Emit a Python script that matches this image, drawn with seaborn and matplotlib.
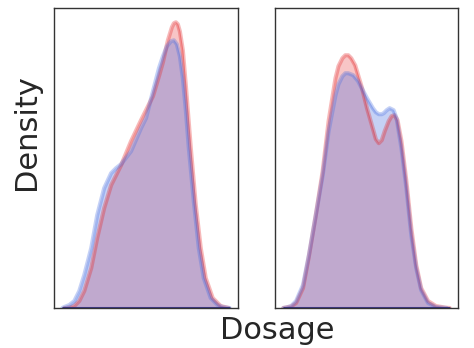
import matplotlib
matplotlib.use("Agg")
import matplotlib.pyplot as plt
import seaborn as sns

# dosage (mg) and density readings, left panel
left_blue_dose = [8, 10, 15, 20, 25, 30, 37, 43, 50, 57, 62, 67, 77, 87, 92, 99, 105, 109, 113, 117,
                  120, 123, 126, 129, 132, 135, 140, 145, 150, 157, 164, 169, 176]
left_blue_dens = [0, 0.001, 0.003, 0.007, 0.017, 0.033, 0.060, 0.093, 0.120, 0.135, 0.140, 0.144,
                  0.157, 0.180, 0.190, 0.217, 0.240, 0.252, 0.262, 0.267, 0.268, 0.264, 0.252, 0.230,
                  0.198, 0.160, 0.107, 0.060, 0.030, 0.010, 0.003, 0.001, 0]
left_red_dose = [10, 15, 20, 25, 30, 37, 43, 50, 57, 67, 77, 87, 92, 99, 105, 109, 114, 118, 120, 122,
                 124, 126, 129, 132, 137, 142, 147, 152, 159, 167, 175]
left_red_dens = [0, 0.0005, 0.002, 0.007, 0.017, 0.040, 0.070, 0.100, 0.123, 0.143, 0.167, 0.188,
                 0.198, 0.212, 0.232, 0.246, 0.268, 0.281, 0.285, 0.286, 0.284, 0.277, 0.258, 0.223,
                 0.160, 0.103, 0.060, 0.030, 0.010, 0.002, 0]

# right panel
right_blue_dose = [7, 10, 15, 20, 27, 33, 40, 47, 53, 60, 63, 67, 70, 73, 78, 83, 92, 98, 101, 104,
                   107, 109, 112, 115, 119, 122, 127, 132, 137, 142, 147, 154, 162, 173]
right_blue_dens = [0, 0.0005, 0.002, 0.007, 0.023, 0.053, 0.093, 0.133, 0.177, 0.213, 0.224, 0.232,
                   0.235, 0.235, 0.233, 0.227, 0.210, 0.200, 0.196, 0.194, 0.194, 0.195, 0.198, 0.200,
                   0.198, 0.190, 0.160, 0.120, 0.073, 0.040, 0.018, 0.005, 0.001, 0]
right_red_dose = [7, 15, 20, 27, 33, 40, 47, 53, 60, 63, 67, 70, 73, 76, 80, 87, 92, 99, 101, 104, 107,
                  110, 114, 117, 120, 123, 127, 132, 137, 142, 147, 154, 162, 172, 176]
right_red_dens = [0, 0.0015, 0.005, 0.020, 0.052, 0.093, 0.137, 0.187, 0.230, 0.242, 0.250, 0.253,
                  0.253, 0.250, 0.243, 0.220, 0.200, 0.176, 0.169, 0.165, 0.168, 0.177, 0.187, 0.192,
                  0.193, 0.188, 0.167, 0.127, 0.080, 0.043, 0.020, 0.007, 0.002, 0.0003, 0]

RED = "#e41a1c"
BLUE = "royalblue"

sns.set_style("white")
fig = plt.figure(figsize=(4.74, 3.48), dpi=100)
ax1 = fig.add_axes([54 / 474, 40 / 348, 184 / 474, 300 / 348])
ax2 = fig.add_axes([275 / 474, 40 / 348, 183 / 474, 300 / 348], sharey=ax1)

panels = [
    (ax1, left_red_dose, left_red_dens, left_blue_dose, left_blue_dens),
    (ax2, right_red_dose, right_red_dens, right_blue_dose, right_blue_dens),
]
for ax, rx, ry, bx, by in panels:
    for x, y, c, a in [(rx, ry, RED, 0.25), (bx, by, BLUE, 0.3)]:
        ax.fill_between(x, 0, y, color=c, alpha=a, lw=0)
        sns.lineplot(x=x, y=y, ax=ax, color=c, lw=3, alpha=0.3)
        sns.lineplot(x=x, y=y, ax=ax, color=c, lw=0.8, alpha=0.25)
    # dark baseline under the curves
    ax.hlines(0, min(rx[0], bx[0]), max(rx[-1], bx[-1]), color="#262680", lw=2.2, alpha=0.85)
    ax.set_xticks([])
    ax.set_yticks([])
    ax.set_xlabel("")
    ax.set_ylabel("")
    ax.margins(x=0.05)
    for s in ax.spines.values():
        s.set_color("#333333")
        s.set_linewidth(1)

ax1.set_ylim(0, 0.286 * 1.05)

fig.text(12 / 474, 1 - 132 / 348, "Density", rotation=90, ha="left", va="center", fontsize=22,
         color="#262626")
fig.text(277 / 474, 9 / 348, "Dosage", ha="center", va="baseline", fontsize=22, color="#262626")

fig.savefig("out.png", dpi=100)
